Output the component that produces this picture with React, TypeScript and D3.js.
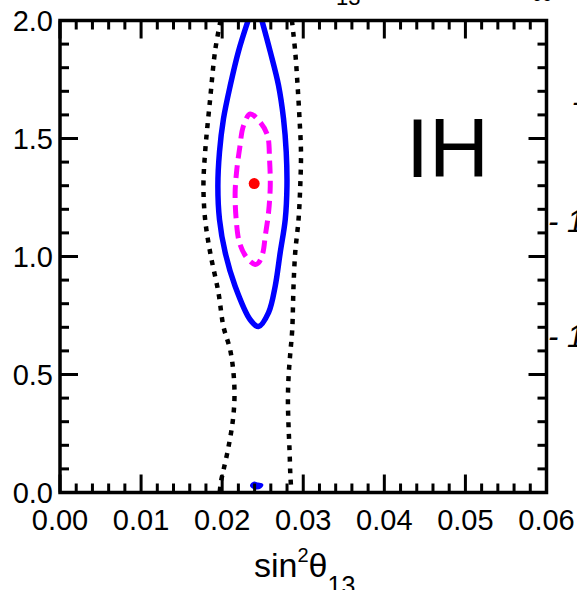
import React from "react";
import * as d3 from "d3";

// ---- data ----
const xTickValues = [0, 0.01, 0.02, 0.03, 0.04, 0.05, 0.06];
const xTickLabels = ["0.00", "0.01", "0.02", "0.03", "0.04", "0.05", "0.06"];
const yTickValues = [0, 0.5, 1.0, 1.5, 2.0];
const yTickLabels = ["0.0", "0.5", "1.0", "1.5", "2.0"];

// outer black dotted contour: left branch and right branch (open, run bottom to top of frame)
const dottedLeft: [number, number][] = [
  [0.0198, 2.0], [0.01914, 1.874], [0.01852, 1.668], [0.0179, 1.443], [0.01769, 1.299],
  [0.0179, 1.157], [0.01852, 1.017], [0.01954, 0.847], [0.02016, 0.703], [0.02099, 0.604],
  [0.0214, 0.505], [0.02152, 0.406], [0.02132, 0.306], [0.02078, 0.193], [0.02016, 0.094],
  [0.01984, 0.044], [0.0197, 0.0],
];
const dottedRight: [number, number][] = [
  [0.0286, 2.0], [0.02901, 1.867], [0.0293, 1.725], [0.02954, 1.583], [0.02972, 1.443],
  [0.02963, 1.299], [0.02942, 1.157], [0.02901, 1.017], [0.0288, 0.874], [0.02864, 0.689],
  [0.0284, 0.59], [0.02819, 0.491], [0.02811, 0.391], [0.02819, 0.278], [0.02831, 0.179],
  [0.0284, 0.08], [0.02848, 0.03], [0.0285, 0.0],
];
// blue solid contour (open at the top)
const blueContour: [number, number][] = [
  [0.0232, 2.0], [0.022, 1.868], [0.0210, 1.725], [0.02016, 1.583], [0.01967, 1.443],
  [0.01947, 1.299], [0.01967, 1.157], [0.02037, 1.017], [0.0216, 0.874], [0.02346, 0.732],
  [0.02448, 0.703], [0.02572, 0.762], [0.02654, 0.874], [0.02716, 1.017], [0.02778, 1.157],
  [0.02799, 1.299], [0.0279, 1.443], [0.02757, 1.583], [0.02695, 1.725], [0.02593, 1.868],
  [0.0249, 2.0],
];
// small blue island near the bottom
const blueIsland: [number, number][] = [
  [0.02355, 0.03], [0.0239, 0.042], [0.0244, 0.038], [0.02495, 0.033],
  [0.0247, 0.02], [0.0241, 0.017], [0.0237, 0.022],
];
// magenta dashed closed contour
const magentaContour: [number, number][] = [
  [0.02346, 1.604], [0.02263, 1.554], [0.02214, 1.455], [0.02181, 1.37], [0.0216, 1.271],
  [0.02173, 1.157], [0.02214, 1.058], [0.02305, 0.994], [0.02407, 0.966], [0.02448, 0.973],
  [0.02502, 1.016], [0.02531, 1.086], [0.02572, 1.186], [0.02593, 1.299], [0.02584, 1.413],
  [0.0256, 1.512], [0.02469, 1.569],
];
const bestFit: [number, number] = [0.02395, 1.309];

const W = 577;
const H = 590;
const left = 60, right = 546.5, top = 20.5, bottom = 492.5;
const FONT = "'Liberation Sans', Arial, Helvetica, sans-serif";

export default function App() {
  const x = d3.scaleLinear().domain([0, 0.06]).range([left, right]);
  const y = d3.scaleLinear().domain([0, 2]).range([bottom, top]);

  const openLine = d3.line<[number, number]>()
    .x(d => x(d[0])).y(d => y(d[1])).curve(d3.curveCatmullRom.alpha(0.5));
  const closedLine = d3.line<[number, number]>()
    .x(d => x(d[0])).y(d => y(d[1])).curve(d3.curveCatmullRomClosed.alpha(0.5));

  const xMinor = d3.range(0, 0.0601, 0.002);
  const yMinor = d3.range(0, 2.001, 0.1);
  const isMajorX = (v: number) => Math.abs(v * 100 - Math.round(v * 100)) < 1e-6;
  const isMajorY = (v: number) => Math.abs(v * 2 - Math.round(v * 2)) < 1e-6;
  const minorLen = 9, majorLen = 18;

  return (
    <svg width={W} height={H} style={{ position: "absolute", left: 0, top: 0, background: "#fff" }}
      fontFamily={FONT}>
      <defs>
        <clipPath id="plot">
          <rect x={left} y={top} width={right - left} height={bottom - top} />
        </clipPath>
      </defs>

      {/* fragments of neighbouring panels */}
      <text x={336} y={5} fontSize={22} fill="#000">13</text>
      <text x={531} y={4} fontSize={30} fontStyle="italic" fill="#000">∞</text>
      <text x={572} y={112} fontSize={30} fontStyle="italic" fill="#000">-</text>
      <text x={548} y={232} fontSize={31} fontStyle="italic" fill="#000">- 1</text>
      <text x={548} y={347} fontSize={31} fontStyle="italic" fill="#000">- 1</text>

      <g clipPath="url(#plot)">
        <path d={openLine(dottedLeft) || ""} fill="none" stroke="#000" strokeWidth={4.5}
          strokeDasharray="5 6.5" />
        <path d={openLine(dottedRight) || ""} fill="none" stroke="#000" strokeWidth={4.5}
          strokeDasharray="5 6.5" />
        <path d={openLine(blueContour) || ""} fill="none" stroke="#0000ff" strokeWidth={5.5}
          strokeLinejoin="round" />
        <path d={closedLine(blueIsland) || ""} fill="#0000ff" stroke="#0000ff" strokeWidth={2} />
        <path d={closedLine(magentaContour) || ""} fill="none" stroke="#ff00ff" strokeWidth={5}
          strokeDasharray="13 7" />
        <circle cx={x(bestFit[0])} cy={y(bestFit[1])} r={5.5} fill="#ff0000" />
      </g>

      {/* ticks */}
      <g stroke="#000" strokeWidth={3}>
        {xMinor.map((v, i) => {
          const len = isMajorX(v) ? majorLen : minorLen;
          const px = x(v);
          return (
            <g key={"xt" + i}>
              <line x1={px} x2={px} y1={bottom} y2={bottom - len} />
              <line x1={px} x2={px} y1={top} y2={top + len} />
            </g>
          );
        })}
        {yMinor.map((v, i) => {
          const len = isMajorY(v) ? majorLen : minorLen;
          const py = y(v);
          return (
            <g key={"yt" + i}>
              <line x1={left} x2={left + len} y1={py} y2={py} />
              <line x1={right} x2={right - len} y1={py} y2={py} />
            </g>
          );
        })}
      </g>

      {/* frame */}
      <rect x={left} y={top} width={right - left} height={bottom - top} fill="none"
        stroke="#000" strokeWidth={3.5} />

      {/* tick labels */}
      {xTickValues.map((v, i) => (
        <text key={"xl" + i} x={x(v)} y={530} fontSize={29} textAnchor="middle" fill="#000">
          {xTickLabels[i]}
        </text>
      ))}
      {yTickValues.map((v, i) => (
        <text key={"yl" + i} x={53} y={y(v) + 10} fontSize={29} textAnchor="end" fill="#000">
          {yTickLabels[i]}
        </text>
      ))}

      {/* axis title */}
      <text x={254} y={577} fontSize={34} fill="#000">
        sin
        <tspan fontSize={20} dy={-15}>2</tspan>
        <tspan fontSize={34} dy={15}>θ</tspan>
        <tspan fontSize={25} dy={17}>13</tspan>
      </text>

      {/* hierarchy label */}
      <text x={406} y={177} fontSize={83} fill="#000">IH</text>
    </svg>
  );
}
